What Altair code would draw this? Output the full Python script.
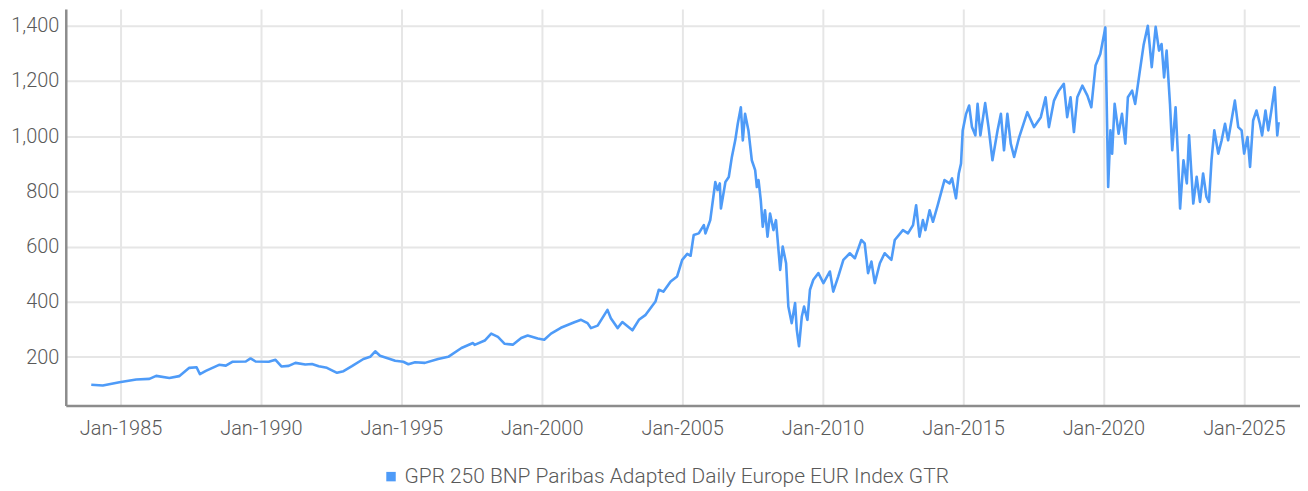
import altair as alt
import pandas as pd

# decimal-year positions and index values
years = [
    1983.96, 1984.37, 1984.96, 1985.56, 1986.03, 1986.27, 1986.74, 1987.09, 1987.45, 1987.71,
    1987.83, 1988.04, 1988.51, 1988.75, 1988.98, 1989.46, 1989.63, 1989.81, 1990.28, 1990.52,
    1990.73, 1990.99, 1991.23, 1991.58, 1991.82,
    1992.06, 1992.35, 1992.71, 1992.94, 1993.24, 1993.65, 1993.89, 1994.07, 1994.24, 1994.54,
    1994.78, 1995.07, 1995.25, 1995.49, 1995.84, 1996.31, 1996.67, 1997.14, 1997.55, 1997.61,
    1997.97, 1998.20, 1998.44, 1998.68, 1998.97, 1999.27, 1999.50, 1999.86, 2000.09, 2000.33,
    2000.68, 2001.16, 2001.40, 2001.63, 2001.75, 2001.99,
    2002.34, 2002.46, 2002.70, 2002.87, 2003.23, 2003.46, 2003.70, 2004.05, 2004.17, 2004.33,
    2004.59, 2004.82, 2005.00, 2005.18, 2005.30, 2005.41, 2005.59, 2005.77, 2005.83, 2006.00,
    2006.18, 2006.26, 2006.34, 2006.38, 2006.54, 2006.66, 2006.77, 2006.89, 2006.98, 2007.09,
    2007.16, 2007.24, 2007.36, 2007.48, 2007.60, 2007.66, 2007.72, 2007.80, 2007.87, 2007.95,
    2008.04, 2008.13, 2008.25, 2008.34, 2008.49, 2008.58, 2008.70, 2008.78, 2008.90, 2009.02,
    2009.08, 2009.16, 2009.26, 2009.34, 2009.46, 2009.55, 2009.67, 2009.85, 2010.03, 2010.26,
    2010.38, 2010.56, 2010.74, 2010.97, 2011.15, 2011.38, 2011.50, 2011.62, 2011.74, 2011.86,
    2012.04, 2012.21, 2012.45, 2012.57, 2012.86, 2013.04, 2013.22, 2013.33, 2013.45, 2013.57,
    2013.66, 2013.81, 2013.93, 2014.10, 2014.34, 2014.52, 2014.61, 2014.75, 2014.85, 2014.93,
    2014.99, 2015.11, 2015.22, 2015.32, 2015.44, 2015.52, 2015.62, 2015.79, 2015.91, 2016.05,
    2016.23, 2016.35, 2016.46, 2016.58, 2016.70, 2016.82, 2017.00, 2017.29, 2017.53, 2017.77,
    2017.94, 2018.06, 2018.24, 2018.41, 2018.59, 2018.71, 2018.83, 2018.95, 2019.07, 2019.25,
    2019.43, 2019.57, 2019.72, 2019.89, 2020.07, 2020.17, 2020.25, 2020.31, 2020.40, 2020.54,
    2020.66, 2020.78, 2020.87, 2021.02, 2021.13, 2021.28, 2021.43, 2021.58, 2021.72, 2021.86,
    2021.98, 2022.07, 2022.16, 2022.25, 2022.37, 2022.45, 2022.57, 2022.65, 2022.73, 2022.85,
    2022.97, 2023.05, 2023.20, 2023.32, 2023.44, 2023.55, 2023.67, 2023.76, 2023.85, 2023.95,
    2024.09, 2024.21, 2024.33, 2024.44, 2024.56, 2024.68, 2024.80, 2024.92, 2025.01, 2025.13,
    2025.22, 2025.33, 2025.45, 2025.57, 2025.65, 2025.77, 2025.87, 2025.98, 2026.10, 2026.19,
    2026.24,
]
values = [
    100, 97, 109, 119, 121, 132, 124, 131, 161, 163,
    138, 150, 172, 169, 183, 184, 195, 184, 183, 190,
    166, 168, 179, 173, 175,
    167, 161, 143, 149, 167, 193, 201, 221, 205, 195,
    187, 183, 174, 181, 179, 193, 201, 233, 251, 244,
    260, 285, 273, 248, 245, 269, 278, 267, 263, 285,
    306, 326, 335, 323, 305, 314,
    371, 341, 305, 327, 297, 335, 353, 401, 444, 437,
    474, 492, 552, 574, 567, 642, 648, 678, 648, 696,
    834, 805, 829, 738, 834, 852, 925, 985, 1045, 1105,
    985, 1081, 1021, 913, 877, 816, 841, 768, 672, 732,
    636, 720, 660, 696, 516, 600, 540, 383, 323, 396,
    299, 239, 347, 383, 335, 444, 480, 504, 468, 510,
    437, 492, 552, 576, 558, 624, 612, 504, 546, 468,
    540, 576, 552, 624, 660, 648, 678, 750, 636, 696,
    660, 732, 690, 750, 841, 829, 847, 775, 865, 901,
    1021, 1081, 1111, 1033, 1003, 1117, 1003, 1120, 1033, 913,
    1021, 1081, 949, 1081, 973, 925, 997, 1087, 1033, 1069,
    1141, 1033, 1129, 1165, 1190, 1069, 1141, 1015, 1141, 1183,
    1147, 1105, 1256, 1298, 1394, 816, 1021, 937, 1117, 1009,
    1081, 973, 1141, 1165, 1117, 1225, 1330, 1400, 1250, 1396,
    1310, 1334, 1213, 1310, 1117, 949, 1105, 937, 738, 913,
    829, 1003, 756, 853, 762, 865, 780, 762, 913, 1021,
    937, 985, 1045, 985, 1057, 1129, 1033, 1021, 937, 997,
    889, 1057, 1093, 1045, 1003, 1093, 1021, 1093, 1177, 1003,
    1051,
]
series_name = "GPR 250 BNP Paribas Adapted Daily Europe EUR Index GTR"
y_ticks = [200, 400, 600, 800, 1000, 1200, 1400]
x_tick_years = [1985, 1990, 1995, 2000, 2005, 2010, 2015, 2020, 2025]


def to_date(y):
    base = int(y)
    start = pd.Timestamp(base, 1, 1)
    end = pd.Timestamp(base + 1, 1, 1)
    return start + (end - start) * (y - base)


df = pd.DataFrame({
    "date": [to_date(y) for y in years],
    "value": values,
    "series": series_name,
})

FONT = "Roboto"
COLOR = "#4e9bf8"
TEXT = "#595959"

chart = alt.Chart(df).mark_line(strokeWidth=2.6, color=COLOR, strokeJoin="round").encode(
    x=alt.X(
        "date:T",
        scale=alt.Scale(domain=[alt.DateTime(year=1983, month=1, date=20),
                                alt.DateTime(year=2027, month=1, date=1)]),
        axis=alt.Axis(
            title=None,
            values=[alt.DateTime(year=y, month=1, date=1) for y in x_tick_years],
            format="%b-%Y",
            labelFontSize=20,
            labelFont=FONT,
            labelFontWeight=300,
            labelColor=TEXT,
            labelPadding=13,
            ticks=False,
            domainColor="#8c8c8c",
            domainWidth=2.5,
            gridColor="#e6e6e6",
            gridWidth=2,
        ),
    ),
    y=alt.Y(
        "value:Q",
        scale=alt.Scale(domain=[25, 1461], nice=False, zero=False),
        axis=alt.Axis(
            title=None,
            values=y_ticks,
            format=",d",
            labelFontSize=20,
            labelFont=FONT,
            labelFontWeight=300,
            labelColor=TEXT,
            labelPadding=7,
            ticks=False,
            domainColor="#8c8c8c",
            domainWidth=2.5,
            gridColor="#e6e6e6",
            gridWidth=2,
        ),
    ),
    color=alt.Color(
        "series:N",
        scale=alt.Scale(range=[COLOR]),
        legend=alt.Legend(
            title=None,
            orient="none",
            legendX=316,
            legendY=459,
            padding=0,
            symbolType="square",
            symbolSize=90,
            symbolFillColor=COLOR,
            symbolStrokeWidth=0,
            labelFontSize=21,
            labelFont=FONT,
            labelFontWeight=300,
            labelColor=TEXT,
            labelOffset=3,
            labelLimit=800,
        ),
    ),
).properties(
    width=1239,
    height=398,
    autosize=alt.AutoSizeParams(type="none"),
    padding={"left": 58, "top": 0, "right": 0, "bottom": 85},
).configure_view(stroke=None)

chart.save("out.html", embed_options={"renderer": "svg", "actions": False})
